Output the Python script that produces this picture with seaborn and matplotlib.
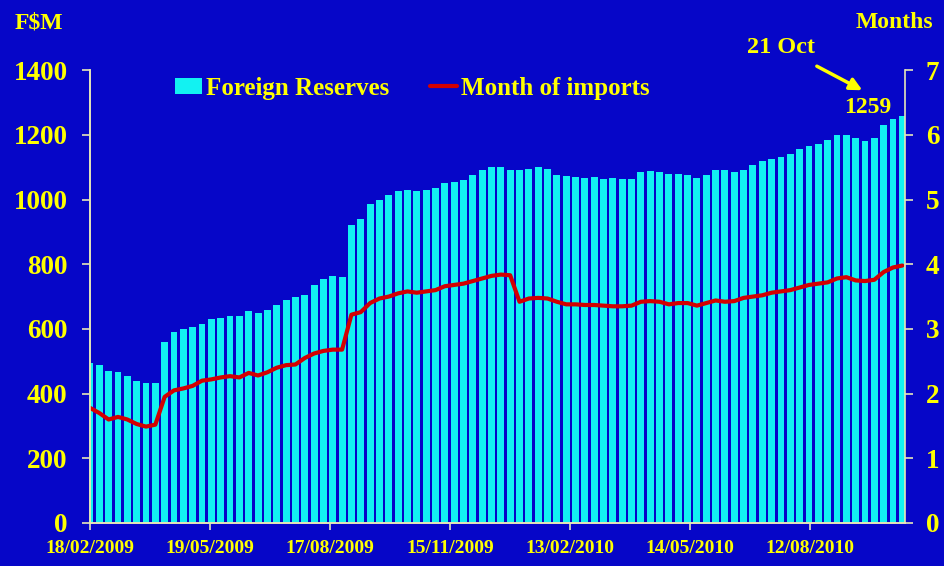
import numpy as np
import pandas as pd
import matplotlib
matplotlib.use("Agg")
import matplotlib.pyplot as plt
from matplotlib.patches import Patch
from matplotlib.lines import Line2D
import seaborn as sns

# Weekly readings, 18/02/2009 .. 20/10/2010
start_date = "2009-02-18"
n_weeks = 88

reserves = [
    494, 488, 470, 466, 455, 440, 432, 432, 560, 590,
    600, 605, 615, 630, 635, 640, 640, 655, 650, 660,
    675, 688, 698, 705, 735, 755, 765, 760, 920, 940,
    985, 1000, 1015, 1025, 1030, 1025, 1030, 1035, 1050, 1055,
    1060, 1075, 1090, 1100, 1100, 1092, 1090, 1095, 1100, 1095,
    1075, 1072, 1070, 1068, 1070, 1065, 1068, 1065, 1065, 1085,
    1088, 1085, 1080, 1078, 1075, 1068, 1075, 1090, 1092, 1085,
    1090, 1108, 1118, 1125, 1132, 1140, 1155, 1165, 1172, 1185,
    1200, 1200, 1190, 1182, 1190, 1230, 1248, 1259,
]

months_imports = [
    1.78, 1.70, 1.60, 1.64, 1.60, 1.53, 1.49, 1.52, 1.95, 2.05,
    2.08, 2.12, 2.20, 2.22, 2.25, 2.27, 2.25, 2.32, 2.28, 2.33,
    2.40, 2.44, 2.45, 2.55, 2.62, 2.66, 2.68, 2.68, 3.22, 3.26,
    3.40, 3.47, 3.50, 3.55, 3.58, 3.56, 3.58, 3.60, 3.66, 3.68,
    3.70, 3.74, 3.78, 3.82, 3.84, 3.83, 3.42, 3.47, 3.48, 3.47,
    3.42, 3.38, 3.38, 3.37, 3.37, 3.36, 3.35, 3.35, 3.36, 3.42,
    3.43, 3.42, 3.38, 3.40, 3.40, 3.36, 3.40, 3.44, 3.42, 3.43,
    3.48, 3.50, 3.52, 3.56, 3.58, 3.60, 3.64, 3.68, 3.70, 3.72,
    3.78, 3.80, 3.75, 3.74, 3.76, 3.88, 3.95, 3.98,
]

tick_dates = ["18/02/2009", "19/05/2009", "17/08/2009", "15/11/2009",
              "13/02/2010", "14/05/2010", "12/08/2010"]
left_ticks = [0, 200, 400, 600, 800, 1000, 1200, 1400]
right_ticks = [0, 1, 2, 3, 4, 5, 6, 7]

# Colours
BG = "#0606C8"
CYAN = "#12F2F2"
RED = "#D40000"
YELLOW = "#FFFF00"
SPINE = "#E6E6B8"

sns.set_style("white")
plt.rcParams["font.family"] = ["Liberation Serif", "DejaVu Serif"]
plt.rcParams["font.weight"] = "bold"

t0 = pd.Timestamp(start_date)
weeks = pd.date_range(start_date, periods=n_weeks, freq="7D")
df = pd.DataFrame({
    "day": (weeks - t0).days,
    "reserves": reserves,
    "months": months_imports,
})
tick_pos = [(pd.to_datetime(d, dayfirst=True) - t0).days for d in tick_dates]

fig = plt.figure(figsize=(9.45, 5.66), dpi=100, facecolor=BG)
ax = fig.add_axes([0.0952, 0.076, 0.8625, 0.800])
ax.set_facecolor(BG)

# bars cover Mon-Fri of each week, weekend left as a gap
sns.barplot(data=df, x="day", y="reserves", native_scale=True, width=0.74,
            color=CYAN, saturation=1, linewidth=0, errorbar=None, ax=ax)
ax.set_xlim(0, 611)
ax.set_ylim(0, 1400)

ax2 = ax.twinx()
sns.lineplot(data=df, x="day", y="months", color=RED, linewidth=3, ax=ax2)
ax2.set_ylim(0, 7)
ax2.set_xlim(0, 611)

for a in (ax, ax2):
    for side, sp in a.spines.items():
        sp.set_color(SPINE)
        sp.set_linewidth(1.2)
    a.spines["top"].set_visible(False)
    a.set_xlabel("")
    a.set_ylabel("")

ax.spines["right"].set_visible(False)

ax.set_yticks(left_ticks)
ax.set_yticklabels([str(v) for v in left_ticks])
ax2.set_yticks(right_ticks)
ax2.set_yticklabels([str(v) for v in right_ticks])
ax.set_xticks(tick_pos)
ax.set_xticklabels(tick_dates)

ax.tick_params(axis="y", direction="out", length=6, width=1.2, color=SPINE,
               labelcolor=YELLOW, labelsize=19.5, pad=10, left=True)
ax2.tick_params(axis="y", direction="out", length=6, width=1.2, color=SPINE,
                labelcolor=YELLOW, labelsize=19.5, pad=9, right=True)
ax.tick_params(axis="x", direction="out", length=5, width=1.2, color=SPINE,
               labelcolor=YELLOW, labelsize=14, pad=7, bottom=True)
for lab in ax.get_xticklabels() + ax.get_yticklabels() + ax2.get_yticklabels():
    lab.set_fontweight("bold")

fig.text(0.041, 0.96, "F$M", color=YELLOW, fontsize=17, fontweight="bold",
         ha="center", va="center")
fig.text(0.946, 0.96, "Months", color=YELLOW, fontsize=17, fontweight="bold",
         ha="center", va="center")

handles = [Patch(facecolor=CYAN, edgecolor="none"),
           Line2D([0], [0], color=RED, linewidth=3)]
leg = ax.legend(handles, ["Foreign Reserves", "Month of imports"], ncol=2,
                loc="center left", bbox_to_anchor=(175 / 945, 1 - 88 / 566),
                bbox_transform=fig.transFigure, frameon=False,
                borderpad=0, borderaxespad=0,
                prop={"size": 18, "weight": "bold"}, handlelength=1.1,
                handleheight=0.6, handletextpad=0.15, columnspacing=1.6)
for txt in leg.get_texts():
    txt.set_color(YELLOW)

ax.text(583, 1286, str(reserves[-1]), color=YELLOW, fontsize=17,
        fontweight="bold", ha="center", va="center")
ax.annotate("21 Oct", xy=(579, 1338), xytext=(518, 1471), color=YELLOW,
            fontsize=17.5, fontweight="bold", ha="center", va="center",
            annotation_clip=False,
            arrowprops=dict(arrowstyle="-|>", color=YELLOW, lw=2.5,
                            mutation_scale=18, shrinkA=8, shrinkB=0))

fig.savefig("out.png", dpi=100, facecolor=BG)
